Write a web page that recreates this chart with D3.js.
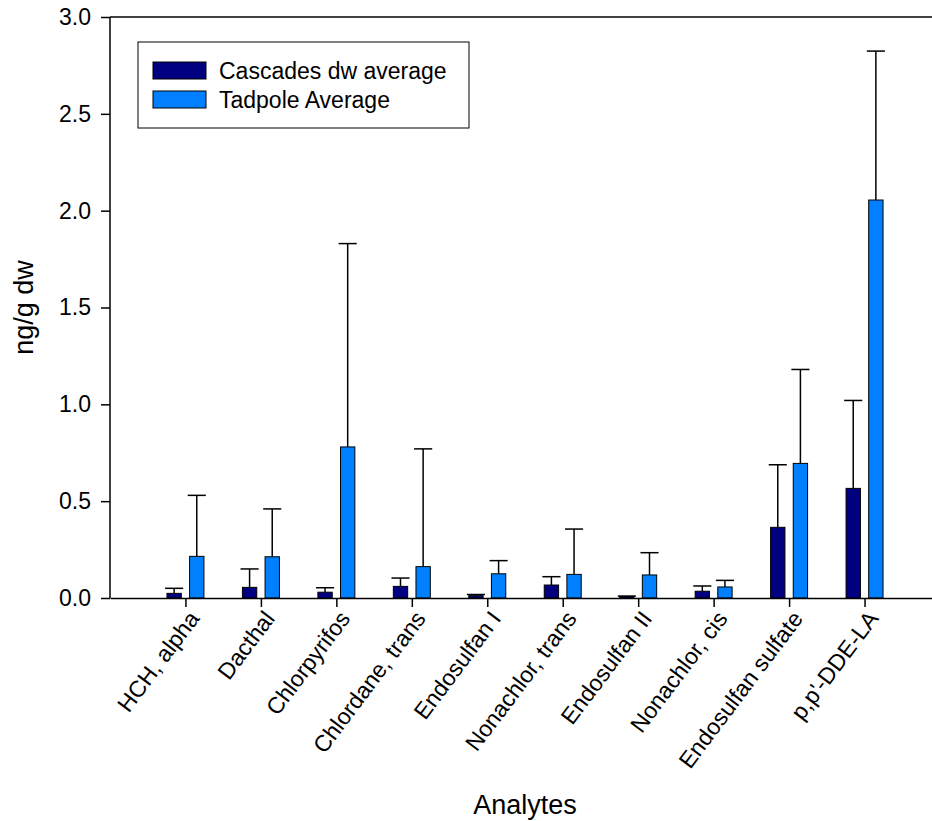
<!DOCTYPE html>
<html>
<head>
<meta charset="utf-8">
<script src="https://cdn.jsdelivr.net/npm/d3@7"></script>
<style>
  body { margin: 0; background: #fff; }
  svg { font-family: Arial, "Liberation Sans", sans-serif; }
</style>
</head>
<body>
<div id="chart"></div>
<script>
const analytes = ['HCH, alpha', 'Dacthal', 'Chlorpyrifos', 'Chlordane, trans', 'Endosulfan I',
  'Nonachlor, trans', 'Endosulfan II', 'Nonachlor, cis', 'Endosulfan sulfate', "p,p'-DDE-LA"];
const cascadesAvg = [0.024, 0.055, 0.03, 0.06, 0.012, 0.067, 0.008, 0.035, 0.365, 0.566];
const cascadesErr = [0.05, 0.15, 0.053, 0.103, 0.018, 0.11, 0.01, 0.062, 0.688, 1.02];
const tadpoleAvg = [0.215, 0.213, 0.78, 0.162, 0.125, 0.122, 0.119, 0.057, 0.695, 2.055];
const tadpoleErr = [0.53, 0.46, 1.83, 0.77, 0.193, 0.356, 0.234, 0.091, 1.18, 2.824];
const yTicks = [0, 0.5, 1.0, 1.5, 2.0, 2.5, 3.0];
const seriesNames = ['Cascades dw average', 'Tadpole Average'];
const colours = ['#000080', '#0080ff'];

const w = 932;
const h = 821;

const svg = d3.select('#chart')
  .append('svg')
  .attr('width', w)
  .attr('height', h);

const x = d3.scaleLinear().domain([0, analytes.length + 1]).range([110, 940]);
const y = d3.scaleLinear().domain([0, 3]).range([598, 17]);

const barW = 0.19;
const offset = 0.15;
const capW = 0.24;

const series = [
  { avg: cascadesAvg, err: cascadesErr, shift: -offset, colour: colours[0] },
  { avg: tadpoleAvg, err: tadpoleErr, shift: offset, colour: colours[1] },
];

// error bars first so bars sit on top of the stems
series.forEach((s) => {
  const g = svg.append('g')
    .attr('stroke', '#000')
    .attr('stroke-width', 1.5);
  g.selectAll('line.stem')
    .data(analytes)
    .enter()
    .append('line')
    .attr('class', 'stem')
    .attr('x1', (d, i) => x(i + 1 + s.shift))
    .attr('x2', (d, i) => x(i + 1 + s.shift))
    .attr('y1', (d, i) => y(s.avg[i]))
    .attr('y2', (d, i) => y(s.err[i]));
  g.selectAll('line.cap')
    .data(analytes)
    .enter()
    .append('line')
    .attr('class', 'cap')
    .attr('x1', (d, i) => x(i + 1 + s.shift - capW / 2))
    .attr('x2', (d, i) => x(i + 1 + s.shift + capW / 2))
    .attr('y1', (d, i) => y(s.err[i]))
    .attr('y2', (d, i) => y(s.err[i]));
});

series.forEach((s) => {
  svg.append('g')
    .selectAll('rect')
    .data(analytes)
    .enter()
    .append('rect')
    .attr('x', (d, i) => x(i + 1 + s.shift - barW / 2))
    .attr('width', x(barW) - x(0))
    .attr('y', (d, i) => y(s.avg[i]))
    .attr('height', (d, i) => y(0) - y(s.avg[i]))
    .attr('fill', s.colour)
    .attr('stroke', '#000')
    .attr('stroke-width', 1);
});

// axes
const yAxis = d3.axisLeft(y)
  .tickValues(yTicks)
  .tickFormat(d3.format('.1f'))
  .tickSize(9)
  .tickPadding(10);
const yG = svg.append('g')
  .attr('transform', `translate(${x(0)},0)`)
  .call(yAxis);

const xAxis = d3.axisBottom(x)
  .tickValues(d3.range(1, analytes.length + 1))
  .tickFormat((d) => analytes[d - 1])
  .tickSize(9)
  .tickSizeOuter(0);
const xG = svg.append('g')
  .attr('transform', `translate(0,${y(0)})`)
  .call(xAxis);

[yG, xG].forEach((g) => {
  g.select('.domain').attr('stroke-width', 1.5);
  g.selectAll('.tick line').attr('stroke-width', 1.5);
  g.selectAll('text').attr('font-size', 23).attr('fill', '#000').attr('font-family', 'Arial, "Liberation Sans", sans-serif');
});
yG.select('.domain').attr('d', `M0,${y(3)}V${y(0)}`);

xG.selectAll('.tick text')
  .attr('text-anchor', 'end')
  .attr('transform', 'translate(8,16) rotate(-53)')
  .attr('dy', '0.35em')
  .attr('y', 0)
  .attr('x', 0);

// top frame line
svg.append('line')
  .attr('x1', x(0))
  .attr('x2', x(analytes.length + 1))
  .attr('y1', y(3))
  .attr('y2', y(3))
  .attr('stroke', '#000')
  .attr('stroke-width', 1.5);

// titles
svg.append('text')
  .attr('transform', `translate(33,${(y(0) + y(3)) / 2}) rotate(-90)`)
  .attr('text-anchor', 'middle')
  .attr('font-size', 27)
  .text('ng/g dw');

svg.append('text')
  .attr('x', x(analytes.length / 2 + 0.5))
  .attr('y', 814)
  .attr('text-anchor', 'middle')
  .attr('font-size', 27)
  .text('Analytes');

// legend
const legend = svg.append('g').attr('transform', 'translate(138,42)');
legend.append('rect')
  .attr('width', 331)
  .attr('height', 86)
  .attr('fill', '#fff')
  .attr('stroke', '#000')
  .attr('stroke-width', 1);
const items = legend.selectAll('g.item')
  .data(seriesNames)
  .enter()
  .append('g')
  .attr('class', 'item')
  .attr('transform', (d, i) => `translate(15,${20 + i * 29})`);
items.append('rect')
  .attr('width', 53)
  .attr('height', 17)
  .attr('fill', (d, i) => colours[i])
  .attr('stroke', '#000')
  .attr('stroke-width', 1);
items.append('text')
  .attr('x', 66)
  .attr('y', 9)
  .attr('dy', '0.35em')
  .attr('font-size', 23)
  .text((d) => d);
</script>
</body>
</html>
